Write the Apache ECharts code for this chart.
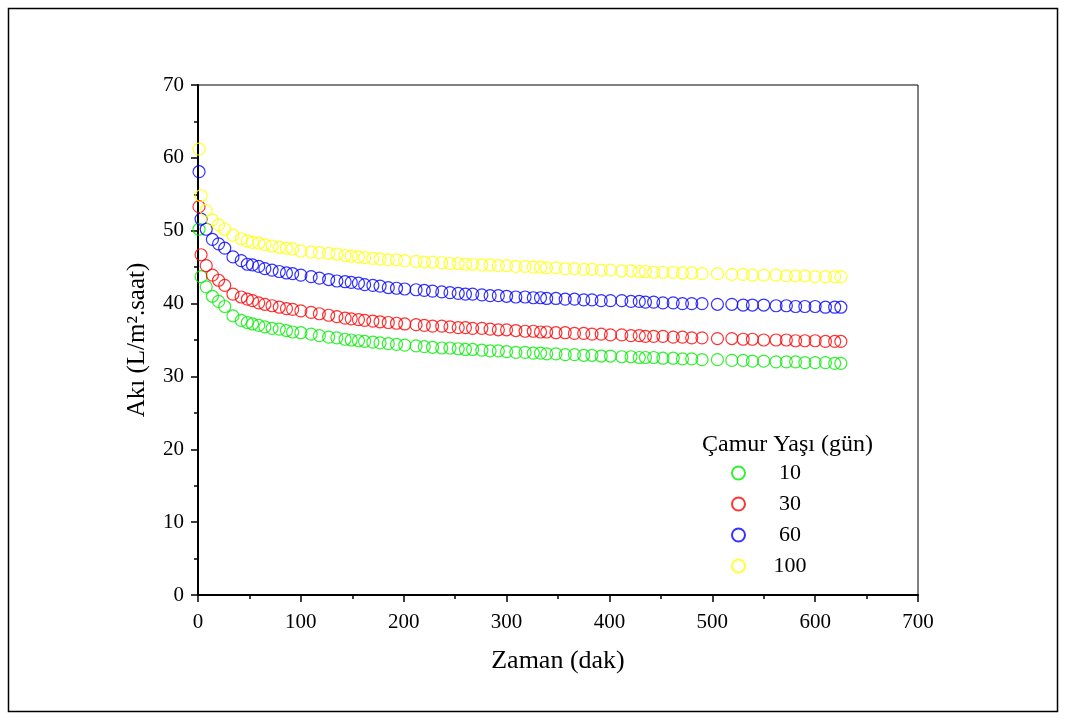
<!DOCTYPE html>
<html>
<head>
<meta charset="utf-8">
<script src="https://cdn.jsdelivr.net/npm/echarts@6/dist/echarts.min.js"></script>
<style>html,body{margin:0;padding:0;background:#fff;}#c{width:1066px;height:720px;}</style>
</head>
<body>
<div id="c"></div>
<script>
// Time (min)
const times = [1,3,8,14,20,26,34,42,48,53,59,65,72,79,86,92,100,110,118,127,135,143,149,156,162,170,177,185,193,201,212,220,228,237,245,253,260,267,276,284,292,300,309,318,326,333,339,348,357,366,375,383,392,401,412,421,429,435,443,452,462,471,480,490,505,519,530,539,550,562,572,581,590,600,610,619,625];

const flux10 = [50.2,43.7,42.3,41.0,40.3,39.6,38.3,37.7,37.4,37.2,37.0,36.8,36.6,36.5,36.3,36.1,36.0,
35.8,35.6,35.4,35.3,35.1,35.0,34.9,34.8,34.7,34.6,34.5,34.4,34.3,34.2,34.1,34.0,33.9,33.9,33.8,33.7,33.7,33.6,33.5,33.5,33.4,33.3,33.3,33.2,33.2,33.1,33.1,33.0,33.0,32.9,32.9,32.8,32.8,32.7,32.7,32.6,32.6,32.6,32.5,32.5,32.4,32.4,32.3,32.3,32.2,32.2,32.1,32.1,32.0,32.0,32.0,31.9,31.9,31.9,31.8,31.8];

const flux30 = [53.3,46.7,45.2,43.9,43.2,42.5,41.3,40.9,40.6,40.4,40.1,39.9,39.7,39.5,39.3,39.2,39.0,
38.8,38.6,38.4,38.2,38.0,37.9,37.8,37.7,37.6,37.5,37.4,37.3,37.2,37.1,37.0,36.9,36.9,36.8,36.7,36.7,36.6,36.6,36.5,36.4,36.4,36.3,36.2,36.2,36.1,36.1,36.0,36.0,35.9,35.9,35.8,35.8,35.7,35.7,35.6,35.6,35.5,35.5,35.5,35.4,35.4,35.3,35.3,35.2,35.2,35.1,35.1,35.0,35.0,35.0,34.9,34.9,34.9,34.8,34.8,34.8];

const flux60 = [58.1,51.6,50.2,48.8,48.2,47.6,46.4,45.9,45.4,45.3,45.1,44.8,44.6,44.4,44.2,44.1,43.9,
43.7,43.5,43.3,43.1,43.0,42.9,42.8,42.6,42.5,42.4,42.2,42.1,42.0,41.9,41.8,41.7,41.6,41.5,41.4,41.3,41.3,41.2,41.1,41.1,41.0,40.9,40.9,40.8,40.8,40.7,40.7,40.6,40.6,40.5,40.5,40.4,40.4,40.4,40.3,40.3,40.2,40.2,40.1,40.1,40.0,40.0,40.0,39.9,39.9,39.8,39.8,39.8,39.7,39.7,39.6,39.6,39.6,39.5,39.5,39.5];

const flux100 = [61.2,54.8,52.8,51.5,50.8,50.2,49.4,48.9,48.6,48.4,48.3,48.1,47.9,47.7,47.6,47.5,47.2,
47.1,47.0,46.9,46.8,46.6,46.5,46.4,46.3,46.2,46.1,46.0,46.0,45.9,45.8,45.7,45.7,45.6,45.5,45.5,45.4,45.4,45.3,45.3,45.2,45.2,45.1,45.1,45.0,45.0,44.9,44.9,44.8,44.8,44.7,44.7,44.6,44.6,44.5,44.5,44.4,44.4,44.3,44.3,44.3,44.2,44.2,44.1,44.1,44.0,44.0,43.9,43.9,43.9,43.8,43.8,43.8,43.7,43.7,43.7,43.7];

const seriesNames = ['10','30','60','100'];
const seriesData = [flux10, flux30, flux60, flux100];
const colors = ['#00ee00','#ff0000','#0000ff','#ffff00'];

const font = '"Liberation Serif", "Times New Roman", serif';

const chart = echarts.init(document.getElementById('c'), null, {renderer:'canvas'});

const series = seriesNames.map((n,i)=>({
  name: n,
  type: 'scatter',
  symbol: 'circle',
  symbolSize: 12,
  data: times.map((t,j)=>[t, seriesData[i][j]]),
  itemStyle: {color: 'rgba(255,255,255,0)', borderColor: colors[i], borderWidth: 1.2},
  emphasis: {disabled: true}
}));

chart.setOption({
  animation: false,
  backgroundColor: '#fff',
  graphic: [{
    type: 'rect', shape: {x: 8.5, y: 8.5, width: 1049, height: 703},
    style: {fill: 'none', stroke: '#000', lineWidth: 1.5}, silent: true
  }],
  title: {
    text: 'Çamur Yaşı (gün)',
    left: 697, top: 428,
    textStyle: {fontFamily: font, fontSize: 24, fontWeight: 'normal', color: '#000'}
  },
  legend: {
    orient: 'vertical',
    left: 726, top: 457,
    itemWidth: 13, itemHeight: 13,
    itemGap: 9,
    icon: 'circle',
    data: seriesNames,
    formatter: function (name) { return '{a|' + name + '}'; },
    textStyle: {fontFamily: font, fontSize: 22, color: '#000',
      rich: {a: {fontFamily: font, fontSize: 22, color: '#000', width: 80, align: 'center', lineHeight: 22}}}
  },
  grid: {left: 198, right: 148, top: 85, bottom: 125, show: true, borderColor: '#000', borderWidth: 1, backgroundColor: 'transparent'},
  xAxis: {
    type: 'value', min: 0, max: 700, interval: 100,
    name: 'Zaman (dak)', nameLocation: 'middle', nameGap: 53, nameMoveOverlap: false,
    nameTextStyle: {fontFamily: font, fontSize: 26, color: '#000'},
    axisLine: {show: true, onZero: false, lineStyle: {color: '#000', width: 2}},
    axisTick: {show: true, inside: false, length: 7, lineStyle: {color: '#000', width: 1.5}},
    minorTick: {show: true, splitNumber: 2, length: 4, lineStyle: {color: '#000', width: 1.5}},
    axisLabel: {fontFamily: font, fontSize: 21, color: '#000', margin: 17},
    splitLine: {show: false}
  },
  yAxis: {
    type: 'value', min: 0, max: 70, interval: 10,
    name: 'Akı (L/m².saat)', nameLocation: 'middle', nameGap: 48, nameMoveOverlap: false,
    nameTextStyle: {fontFamily: font, fontSize: 25, color: '#000'},
    axisLine: {show: true, onZero: false, lineStyle: {color: '#000', width: 2}},
    axisTick: {show: true, inside: false, length: 7, lineStyle: {color: '#000', width: 1.5}},
    minorTick: {show: true, splitNumber: 2, length: 4, lineStyle: {color: '#000', width: 1.5}},
    axisLabel: {fontFamily: font, fontSize: 21, color: '#000', margin: 14},
    splitLine: {show: false}
  },
  series: series
});
</script>
</body>
</html>
